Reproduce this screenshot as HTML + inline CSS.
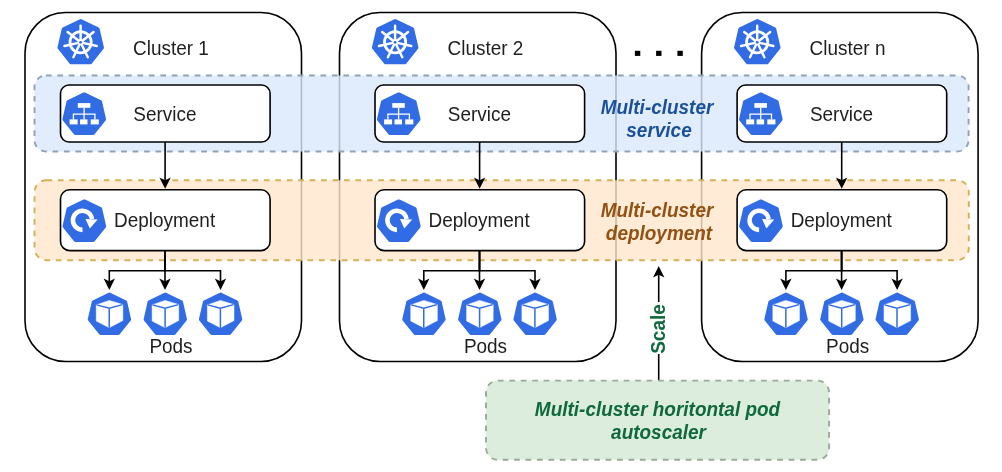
<!DOCTYPE html>
<html><head><meta charset="utf-8"><title>Multi-cluster</title>
<style>html,body{margin:0;padding:0;background:#fff;}body{width:1002px;height:472px;overflow:hidden;font-family:"Liberation Sans",sans-serif;}svg{display:block;will-change:transform;}</style>
</head><body>
<svg width="1002" height="472" viewBox="0 0 1002 472"><path d="M65.50,12.50 L261.00,12.50 A40.50,40.50 0 0 1 301.50,53.00 L301.50,321.00 A40.50,40.50 0 0 1 261.00,361.50 L65.50,361.50 A40.50,40.50 0 0 1 25.00,321.00 L25.00,53.00 A40.50,40.50 0 0 1 65.50,12.50Z" fill="#fff" stroke="#000" stroke-width="1.6"/>
<path d="M380.00,12.50 L575.50,12.50 A40.50,40.50 0 0 1 616.00,53.00 L616.00,321.00 A40.50,40.50 0 0 1 575.50,361.50 L380.00,361.50 A40.50,40.50 0 0 1 339.50,321.00 L339.50,53.00 A40.50,40.50 0 0 1 380.00,12.50Z" fill="#fff" stroke="#000" stroke-width="1.6"/>
<path d="M742.10,12.50 L937.60,12.50 A40.50,40.50 0 0 1 978.10,53.00 L978.10,321.00 A40.50,40.50 0 0 1 937.60,361.50 L742.10,361.50 A40.50,40.50 0 0 1 701.60,321.00 L701.60,53.00 A40.50,40.50 0 0 1 742.10,12.50Z" fill="#fff" stroke="#000" stroke-width="1.6"/>
<path d="M45.90,75.50 L957.20,75.50 A11.40,11.40 0 0 1 968.60,86.90 L968.60,140.10 A11.40,11.40 0 0 1 957.20,151.50 L45.90,151.50 A11.40,11.40 0 0 1 34.50,140.10 L34.50,86.90 A11.40,11.40 0 0 1 45.90,75.50Z" fill="#dae8fc" fill-opacity="0.8" stroke="#91a1b6" stroke-width="1.9" stroke-dasharray="5.72 5.72"/>
<path d="M46.50,180.20 L956.80,180.20 A12.00,12.00 0 0 1 968.80,192.20 L968.80,248.20 A12.00,12.00 0 0 1 956.80,260.20 L46.50,260.20 A12.00,12.00 0 0 1 34.50,248.20 L34.50,192.20 A12.00,12.00 0 0 1 46.50,180.20Z" fill="#ffe6cc" fill-opacity="0.8" stroke="#d1b255" stroke-width="1.9" stroke-dasharray="5.72 5.72"/>
<path d="M80.70,20.75 L97.90,29.03 L102.15,47.65 L90.25,62.57 L71.15,62.57 L59.25,47.65 L63.50,29.03Z" fill="#326ce5" stroke="#326ce5" stroke-width="3.6" stroke-linejoin="round"/><circle cx="80.60" cy="42.30" r="10.6" fill="none" stroke="#fff" stroke-width="2.8"/><line x1="80.60" y1="39.90" x2="80.60" y2="25.70" stroke="#fff" stroke-width="2.4" stroke-linecap="round"/><line x1="82.48" y1="40.80" x2="93.58" y2="31.95" stroke="#fff" stroke-width="2.4" stroke-linecap="round"/><line x1="82.94" y1="42.83" x2="96.78" y2="45.99" stroke="#fff" stroke-width="2.4" stroke-linecap="round"/><line x1="81.64" y1="44.46" x2="87.80" y2="57.26" stroke="#fff" stroke-width="2.4" stroke-linecap="round"/><line x1="79.56" y1="44.46" x2="73.40" y2="57.26" stroke="#fff" stroke-width="2.4" stroke-linecap="round"/><line x1="78.26" y1="42.83" x2="64.42" y2="45.99" stroke="#fff" stroke-width="2.4" stroke-linecap="round"/><line x1="78.72" y1="40.80" x2="67.62" y2="31.95" stroke="#fff" stroke-width="2.4" stroke-linecap="round"/><circle cx="80.60" cy="42.30" r="3.0" fill="#fff"/><circle cx="80.60" cy="42.30" r="1.4" fill="#326ce5"/><text transform="translate(133.00,54.75) scale(1,1.025)" font-family="Liberation Sans, sans-serif" font-size="18.96" fill="#1e1e1e">Cluster 1</text><path d="M69.05,85.00 L261.55,85.00 A8.55,8.55 0 0 1 270.10,93.55 L270.10,133.45 A8.55,8.55 0 0 1 261.55,142.00 L69.05,142.00 A8.55,8.55 0 0 1 60.50,133.45 L60.50,93.55 A8.55,8.55 0 0 1 69.05,85.00Z" fill="#fff" stroke="#000" stroke-width="1.6"/><path d="M84.25,94.20 L100.28,101.92 L104.24,119.26 L93.15,133.17 L75.35,133.17 L64.26,119.26 L68.22,101.92Z" fill="#326ce5" stroke="#326ce5" stroke-width="3.6" stroke-linejoin="round"/><rect x="77.80" y="103.10" width="12.5" height="4.7" fill="#fff"/><path d="M84.10,107.70 V114.40 M73.40,119.50 V114.10 H94.90 V119.50 M84.10,114.10 V119.50" fill="none" stroke="#fff" stroke-width="1.3"/><rect x="69.60" y="119.40" width="8" height="5" fill="#fff"/><rect x="80.00" y="119.40" width="7.5" height="5" fill="#fff"/><rect x="90.70" y="119.40" width="8.1" height="5" fill="#fff"/><text transform="translate(133.30,120.50) scale(1,1.025)" font-family="Liberation Sans, sans-serif" font-size="18.96" fill="#1e1e1e">Service</text><line x1="165.10" y1="142" x2="165.10" y2="181" stroke="#000" stroke-width="1.6"/><path d="M165.10,187.00 L161.20,179.20 L165.10,181.15 L169.00,179.20Z" fill="#000" stroke="#000" stroke-width="1.6" stroke-linejoin="miter" stroke-miterlimit="10"/><path d="M69.60,189.80 L261.00,189.80 A9.10,9.10 0 0 1 270.10,198.90 L270.10,241.50 A9.10,9.10 0 0 1 261.00,250.60 L69.60,250.60 A9.10,9.10 0 0 1 60.50,241.50 L60.50,198.90 A9.10,9.10 0 0 1 69.60,189.80Z" fill="#fff" stroke="#000" stroke-width="1.6"/><path d="M84.35,201.20 L100.38,208.92 L104.34,226.26 L93.25,240.17 L75.45,240.17 L64.36,226.26 L68.32,208.92Z" fill="#326ce5" stroke="#326ce5" stroke-width="3.6" stroke-linejoin="round"/><path d="M82.50,229.85 A9.55,9.55 0 1 1 91.96,218.97" fill="none" stroke="#fff" stroke-width="4.6"/><path d="M85.50,219.10 L97.70,219.50 L89.80,228.50Z" fill="#fff"/><text transform="translate(114.05,227.30) scale(1,1.025)" font-family="Liberation Sans, sans-serif" font-size="18.96" fill="#1e1e1e">Deployment</text><path d="M165.00,250.6 V270.7 H109.30 V282" fill="none" stroke="#000" stroke-width="1.6"/><path d="M165.00,250.6 V282" fill="none" stroke="#000" stroke-width="1.6"/><path d="M165.00,250.6 V270.7 H220.50 V282" fill="none" stroke="#000" stroke-width="1.6"/><path d="M109.30,288.10 L105.40,280.30 L109.30,282.25 L113.20,280.30Z" fill="#000" stroke="#000" stroke-width="1.6" stroke-linejoin="miter" stroke-miterlimit="10"/><path d="M165.00,288.10 L161.10,280.30 L165.00,282.25 L168.90,280.30Z" fill="#000" stroke="#000" stroke-width="1.6" stroke-linejoin="miter" stroke-miterlimit="10"/><path d="M220.50,288.10 L216.60,280.30 L220.50,282.25 L224.40,280.30Z" fill="#000" stroke="#000" stroke-width="1.6" stroke-linejoin="miter" stroke-miterlimit="10"/><path d="M109.45,294.40 L125.40,302.08 L129.34,319.34 L118.30,333.18 L100.60,333.18 L89.56,319.34 L93.50,302.08Z" fill="#326ce5" stroke="#326ce5" stroke-width="3.6" stroke-linejoin="round"/><path d="M109.25,300.40 L122.85,304.60 L122.85,320.60 L109.25,327.70 L96.25,321.00 L96.25,304.90Z" fill="#fff" stroke="#fff" stroke-width="0.5" stroke-linejoin="round"/><path d="M96.65,304.90 L109.25,308.30 L122.45,304.60 M109.25,308.30 L109.25,327.70" fill="none" stroke="#326ce5" stroke-width="1.5"/><path d="M165.30,294.40 L181.25,302.08 L185.19,319.34 L174.15,333.18 L156.45,333.18 L145.41,319.34 L149.35,302.08Z" fill="#326ce5" stroke="#326ce5" stroke-width="3.6" stroke-linejoin="round"/><path d="M165.10,300.40 L178.70,304.60 L178.70,320.60 L165.10,327.70 L152.10,321.00 L152.10,304.90Z" fill="#fff" stroke="#fff" stroke-width="0.5" stroke-linejoin="round"/><path d="M152.50,304.90 L165.10,308.30 L178.30,304.60 M165.10,308.30 L165.10,327.70" fill="none" stroke="#326ce5" stroke-width="1.5"/><path d="M220.60,294.40 L236.55,302.08 L240.49,319.34 L229.45,333.18 L211.75,333.18 L200.71,319.34 L204.65,302.08Z" fill="#326ce5" stroke="#326ce5" stroke-width="3.6" stroke-linejoin="round"/><path d="M220.40,300.40 L234.00,304.60 L234.00,320.60 L220.40,327.70 L207.40,321.00 L207.40,304.90Z" fill="#fff" stroke="#fff" stroke-width="0.5" stroke-linejoin="round"/><path d="M207.80,304.90 L220.40,308.30 L233.60,304.60 M220.40,308.30 L220.40,327.70" fill="none" stroke="#326ce5" stroke-width="1.5"/><text transform="translate(149.40,352.90) scale(1,1.025)" font-family="Liberation Sans, sans-serif" font-size="18.96" fill="#1e1e1e">Pods</text>
<path d="M395.20,20.75 L412.40,29.03 L416.65,47.65 L404.75,62.57 L385.65,62.57 L373.75,47.65 L378.00,29.03Z" fill="#326ce5" stroke="#326ce5" stroke-width="3.6" stroke-linejoin="round"/><circle cx="395.10" cy="42.30" r="10.6" fill="none" stroke="#fff" stroke-width="2.8"/><line x1="395.10" y1="39.90" x2="395.10" y2="25.70" stroke="#fff" stroke-width="2.4" stroke-linecap="round"/><line x1="396.98" y1="40.80" x2="408.08" y2="31.95" stroke="#fff" stroke-width="2.4" stroke-linecap="round"/><line x1="397.44" y1="42.83" x2="411.28" y2="45.99" stroke="#fff" stroke-width="2.4" stroke-linecap="round"/><line x1="396.14" y1="44.46" x2="402.30" y2="57.26" stroke="#fff" stroke-width="2.4" stroke-linecap="round"/><line x1="394.06" y1="44.46" x2="387.90" y2="57.26" stroke="#fff" stroke-width="2.4" stroke-linecap="round"/><line x1="392.76" y1="42.83" x2="378.92" y2="45.99" stroke="#fff" stroke-width="2.4" stroke-linecap="round"/><line x1="393.22" y1="40.80" x2="382.12" y2="31.95" stroke="#fff" stroke-width="2.4" stroke-linecap="round"/><circle cx="395.10" cy="42.30" r="3.0" fill="#fff"/><circle cx="395.10" cy="42.30" r="1.4" fill="#326ce5"/><text transform="translate(447.50,54.75) scale(1,1.025)" font-family="Liberation Sans, sans-serif" font-size="18.96" fill="#1e1e1e">Cluster 2</text><path d="M383.55,85.00 L576.05,85.00 A8.55,8.55 0 0 1 584.60,93.55 L584.60,133.45 A8.55,8.55 0 0 1 576.05,142.00 L383.55,142.00 A8.55,8.55 0 0 1 375.00,133.45 L375.00,93.55 A8.55,8.55 0 0 1 383.55,85.00Z" fill="#fff" stroke="#000" stroke-width="1.6"/><path d="M398.75,94.20 L414.78,101.92 L418.74,119.26 L407.65,133.17 L389.85,133.17 L378.76,119.26 L382.72,101.92Z" fill="#326ce5" stroke="#326ce5" stroke-width="3.6" stroke-linejoin="round"/><rect x="392.30" y="103.10" width="12.5" height="4.7" fill="#fff"/><path d="M398.60,107.70 V114.40 M387.90,119.50 V114.10 H409.40 V119.50 M398.60,114.10 V119.50" fill="none" stroke="#fff" stroke-width="1.3"/><rect x="384.10" y="119.40" width="8" height="5" fill="#fff"/><rect x="394.50" y="119.40" width="7.5" height="5" fill="#fff"/><rect x="405.20" y="119.40" width="8.1" height="5" fill="#fff"/><text transform="translate(447.80,120.50) scale(1,1.025)" font-family="Liberation Sans, sans-serif" font-size="18.96" fill="#1e1e1e">Service</text><line x1="479.60" y1="142" x2="479.60" y2="181" stroke="#000" stroke-width="1.6"/><path d="M479.60,187.00 L475.70,179.20 L479.60,181.15 L483.50,179.20Z" fill="#000" stroke="#000" stroke-width="1.6" stroke-linejoin="miter" stroke-miterlimit="10"/><path d="M384.10,189.80 L575.50,189.80 A9.10,9.10 0 0 1 584.60,198.90 L584.60,241.50 A9.10,9.10 0 0 1 575.50,250.60 L384.10,250.60 A9.10,9.10 0 0 1 375.00,241.50 L375.00,198.90 A9.10,9.10 0 0 1 384.10,189.80Z" fill="#fff" stroke="#000" stroke-width="1.6"/><path d="M398.85,201.20 L414.88,208.92 L418.84,226.26 L407.75,240.17 L389.95,240.17 L378.86,226.26 L382.82,208.92Z" fill="#326ce5" stroke="#326ce5" stroke-width="3.6" stroke-linejoin="round"/><path d="M397.00,229.85 A9.55,9.55 0 1 1 406.46,218.97" fill="none" stroke="#fff" stroke-width="4.6"/><path d="M400.00,219.10 L412.20,219.50 L404.30,228.50Z" fill="#fff"/><text transform="translate(428.55,227.30) scale(1,1.025)" font-family="Liberation Sans, sans-serif" font-size="18.96" fill="#1e1e1e">Deployment</text><path d="M479.50,250.6 V270.7 H423.80 V282" fill="none" stroke="#000" stroke-width="1.6"/><path d="M479.50,250.6 V282" fill="none" stroke="#000" stroke-width="1.6"/><path d="M479.50,250.6 V270.7 H535.00 V282" fill="none" stroke="#000" stroke-width="1.6"/><path d="M423.80,288.10 L419.90,280.30 L423.80,282.25 L427.70,280.30Z" fill="#000" stroke="#000" stroke-width="1.6" stroke-linejoin="miter" stroke-miterlimit="10"/><path d="M479.50,288.10 L475.60,280.30 L479.50,282.25 L483.40,280.30Z" fill="#000" stroke="#000" stroke-width="1.6" stroke-linejoin="miter" stroke-miterlimit="10"/><path d="M535.00,288.10 L531.10,280.30 L535.00,282.25 L538.90,280.30Z" fill="#000" stroke="#000" stroke-width="1.6" stroke-linejoin="miter" stroke-miterlimit="10"/><path d="M423.95,294.40 L439.90,302.08 L443.84,319.34 L432.80,333.18 L415.10,333.18 L404.06,319.34 L408.00,302.08Z" fill="#326ce5" stroke="#326ce5" stroke-width="3.6" stroke-linejoin="round"/><path d="M423.75,300.40 L437.35,304.60 L437.35,320.60 L423.75,327.70 L410.75,321.00 L410.75,304.90Z" fill="#fff" stroke="#fff" stroke-width="0.5" stroke-linejoin="round"/><path d="M411.15,304.90 L423.75,308.30 L436.95,304.60 M423.75,308.30 L423.75,327.70" fill="none" stroke="#326ce5" stroke-width="1.5"/><path d="M479.80,294.40 L495.75,302.08 L499.69,319.34 L488.65,333.18 L470.95,333.18 L459.91,319.34 L463.85,302.08Z" fill="#326ce5" stroke="#326ce5" stroke-width="3.6" stroke-linejoin="round"/><path d="M479.60,300.40 L493.20,304.60 L493.20,320.60 L479.60,327.70 L466.60,321.00 L466.60,304.90Z" fill="#fff" stroke="#fff" stroke-width="0.5" stroke-linejoin="round"/><path d="M467.00,304.90 L479.60,308.30 L492.80,304.60 M479.60,308.30 L479.60,327.70" fill="none" stroke="#326ce5" stroke-width="1.5"/><path d="M535.10,294.40 L551.05,302.08 L554.99,319.34 L543.95,333.18 L526.25,333.18 L515.21,319.34 L519.15,302.08Z" fill="#326ce5" stroke="#326ce5" stroke-width="3.6" stroke-linejoin="round"/><path d="M534.90,300.40 L548.50,304.60 L548.50,320.60 L534.90,327.70 L521.90,321.00 L521.90,304.90Z" fill="#fff" stroke="#fff" stroke-width="0.5" stroke-linejoin="round"/><path d="M522.30,304.90 L534.90,308.30 L548.10,304.60 M534.90,308.30 L534.90,327.70" fill="none" stroke="#326ce5" stroke-width="1.5"/><text transform="translate(463.90,352.90) scale(1,1.025)" font-family="Liberation Sans, sans-serif" font-size="18.96" fill="#1e1e1e">Pods</text>
<path d="M757.30,20.75 L774.50,29.03 L778.75,47.65 L766.85,62.57 L747.75,62.57 L735.85,47.65 L740.10,29.03Z" fill="#326ce5" stroke="#326ce5" stroke-width="3.6" stroke-linejoin="round"/><circle cx="757.20" cy="42.30" r="10.6" fill="none" stroke="#fff" stroke-width="2.8"/><line x1="757.20" y1="39.90" x2="757.20" y2="25.70" stroke="#fff" stroke-width="2.4" stroke-linecap="round"/><line x1="759.08" y1="40.80" x2="770.18" y2="31.95" stroke="#fff" stroke-width="2.4" stroke-linecap="round"/><line x1="759.54" y1="42.83" x2="773.38" y2="45.99" stroke="#fff" stroke-width="2.4" stroke-linecap="round"/><line x1="758.24" y1="44.46" x2="764.40" y2="57.26" stroke="#fff" stroke-width="2.4" stroke-linecap="round"/><line x1="756.16" y1="44.46" x2="750.00" y2="57.26" stroke="#fff" stroke-width="2.4" stroke-linecap="round"/><line x1="754.86" y1="42.83" x2="741.02" y2="45.99" stroke="#fff" stroke-width="2.4" stroke-linecap="round"/><line x1="755.32" y1="40.80" x2="744.22" y2="31.95" stroke="#fff" stroke-width="2.4" stroke-linecap="round"/><circle cx="757.20" cy="42.30" r="3.0" fill="#fff"/><circle cx="757.20" cy="42.30" r="1.4" fill="#326ce5"/><text transform="translate(809.60,54.75) scale(1,1.025)" font-family="Liberation Sans, sans-serif" font-size="18.96" fill="#1e1e1e">Cluster n</text><path d="M745.65,85.00 L938.15,85.00 A8.55,8.55 0 0 1 946.70,93.55 L946.70,133.45 A8.55,8.55 0 0 1 938.15,142.00 L745.65,142.00 A8.55,8.55 0 0 1 737.10,133.45 L737.10,93.55 A8.55,8.55 0 0 1 745.65,85.00Z" fill="#fff" stroke="#000" stroke-width="1.6"/><path d="M760.85,94.20 L776.88,101.92 L780.84,119.26 L769.75,133.17 L751.95,133.17 L740.86,119.26 L744.82,101.92Z" fill="#326ce5" stroke="#326ce5" stroke-width="3.6" stroke-linejoin="round"/><rect x="754.40" y="103.10" width="12.5" height="4.7" fill="#fff"/><path d="M760.70,107.70 V114.40 M750.00,119.50 V114.10 H771.50 V119.50 M760.70,114.10 V119.50" fill="none" stroke="#fff" stroke-width="1.3"/><rect x="746.20" y="119.40" width="8" height="5" fill="#fff"/><rect x="756.60" y="119.40" width="7.5" height="5" fill="#fff"/><rect x="767.30" y="119.40" width="8.1" height="5" fill="#fff"/><text transform="translate(809.90,120.50) scale(1,1.025)" font-family="Liberation Sans, sans-serif" font-size="18.96" fill="#1e1e1e">Service</text><line x1="841.70" y1="142" x2="841.70" y2="181" stroke="#000" stroke-width="1.6"/><path d="M841.70,187.00 L837.80,179.20 L841.70,181.15 L845.60,179.20Z" fill="#000" stroke="#000" stroke-width="1.6" stroke-linejoin="miter" stroke-miterlimit="10"/><path d="M746.20,189.80 L937.60,189.80 A9.10,9.10 0 0 1 946.70,198.90 L946.70,241.50 A9.10,9.10 0 0 1 937.60,250.60 L746.20,250.60 A9.10,9.10 0 0 1 737.10,241.50 L737.10,198.90 A9.10,9.10 0 0 1 746.20,189.80Z" fill="#fff" stroke="#000" stroke-width="1.6"/><path d="M760.95,201.20 L776.98,208.92 L780.94,226.26 L769.85,240.17 L752.05,240.17 L740.96,226.26 L744.92,208.92Z" fill="#326ce5" stroke="#326ce5" stroke-width="3.6" stroke-linejoin="round"/><path d="M759.10,229.85 A9.55,9.55 0 1 1 768.56,218.97" fill="none" stroke="#fff" stroke-width="4.6"/><path d="M762.10,219.10 L774.30,219.50 L766.40,228.50Z" fill="#fff"/><text transform="translate(790.65,227.30) scale(1,1.025)" font-family="Liberation Sans, sans-serif" font-size="18.96" fill="#1e1e1e">Deployment</text><path d="M841.60,250.6 V270.7 H785.90 V282" fill="none" stroke="#000" stroke-width="1.6"/><path d="M841.60,250.6 V282" fill="none" stroke="#000" stroke-width="1.6"/><path d="M841.60,250.6 V270.7 H897.10 V282" fill="none" stroke="#000" stroke-width="1.6"/><path d="M785.90,288.10 L782.00,280.30 L785.90,282.25 L789.80,280.30Z" fill="#000" stroke="#000" stroke-width="1.6" stroke-linejoin="miter" stroke-miterlimit="10"/><path d="M841.60,288.10 L837.70,280.30 L841.60,282.25 L845.50,280.30Z" fill="#000" stroke="#000" stroke-width="1.6" stroke-linejoin="miter" stroke-miterlimit="10"/><path d="M897.10,288.10 L893.20,280.30 L897.10,282.25 L901.00,280.30Z" fill="#000" stroke="#000" stroke-width="1.6" stroke-linejoin="miter" stroke-miterlimit="10"/><path d="M786.05,294.40 L802.00,302.08 L805.94,319.34 L794.90,333.18 L777.20,333.18 L766.16,319.34 L770.10,302.08Z" fill="#326ce5" stroke="#326ce5" stroke-width="3.6" stroke-linejoin="round"/><path d="M785.85,300.40 L799.45,304.60 L799.45,320.60 L785.85,327.70 L772.85,321.00 L772.85,304.90Z" fill="#fff" stroke="#fff" stroke-width="0.5" stroke-linejoin="round"/><path d="M773.25,304.90 L785.85,308.30 L799.05,304.60 M785.85,308.30 L785.85,327.70" fill="none" stroke="#326ce5" stroke-width="1.5"/><path d="M841.90,294.40 L857.85,302.08 L861.79,319.34 L850.75,333.18 L833.05,333.18 L822.01,319.34 L825.95,302.08Z" fill="#326ce5" stroke="#326ce5" stroke-width="3.6" stroke-linejoin="round"/><path d="M841.70,300.40 L855.30,304.60 L855.30,320.60 L841.70,327.70 L828.70,321.00 L828.70,304.90Z" fill="#fff" stroke="#fff" stroke-width="0.5" stroke-linejoin="round"/><path d="M829.10,304.90 L841.70,308.30 L854.90,304.60 M841.70,308.30 L841.70,327.70" fill="none" stroke="#326ce5" stroke-width="1.5"/><path d="M897.20,294.40 L913.15,302.08 L917.09,319.34 L906.05,333.18 L888.35,333.18 L877.31,319.34 L881.25,302.08Z" fill="#326ce5" stroke="#326ce5" stroke-width="3.6" stroke-linejoin="round"/><path d="M897.00,300.40 L910.60,304.60 L910.60,320.60 L897.00,327.70 L884.00,321.00 L884.00,304.90Z" fill="#fff" stroke="#fff" stroke-width="0.5" stroke-linejoin="round"/><path d="M884.40,304.90 L897.00,308.30 L910.20,304.60 M897.00,308.30 L897.00,327.70" fill="none" stroke="#326ce5" stroke-width="1.5"/><text transform="translate(826.00,352.90) scale(1,1.025)" font-family="Liberation Sans, sans-serif" font-size="18.96" fill="#1e1e1e">Pods</text>
<rect x="634.9" y="50.8" width="5.4" height="5.1" fill="#000"/>
<rect x="656.1" y="50.8" width="5.4" height="5.1" fill="#000"/>
<rect x="677.4" y="50.8" width="5.4" height="5.1" fill="#000"/>
<text transform="translate(657.00,113.50) scale(1,1.025)" font-family="Liberation Sans, sans-serif" font-size="18.96" font-weight="bold" font-style="italic" text-anchor="middle" fill="#1b519a">Multi-cluster</text>
<text transform="translate(659.00,137.00) scale(1,1.025)" font-family="Liberation Sans, sans-serif" font-size="18.96" font-weight="bold" font-style="italic" text-anchor="middle" fill="#1b519a">service</text>
<text transform="translate(657.00,216.70) scale(1,1.025)" font-family="Liberation Sans, sans-serif" font-size="18.96" font-weight="bold" font-style="italic" text-anchor="middle" fill="#925214">Multi-cluster</text>
<text transform="translate(659.00,240.20) scale(1,1.025)" font-family="Liberation Sans, sans-serif" font-size="18.96" font-weight="bold" font-style="italic" text-anchor="middle" fill="#925214">deployment</text>
<line x1="658.7" y1="274" x2="658.7" y2="380.6" stroke="#000" stroke-width="1.6"/>
<path d="M658.70,267.90 L654.80,275.70 L658.70,273.75 L662.60,275.70Z" fill="#000" stroke="#000" stroke-width="1.6" stroke-linejoin="miter" stroke-miterlimit="10"/>
<rect x="649" y="302" width="19" height="52" fill="#fff"/>
<text transform="translate(665.2,329.0) rotate(-90) scale(1,1.025)" font-family="Liberation Sans, sans-serif" font-size="18.96" font-weight="bold" text-anchor="middle" fill="#0f693c">Scale</text>
<path d="M497.88,380.60 L817.22,380.60 A11.88,11.88 0 0 1 829.10,392.48 L829.10,447.92 A11.88,11.88 0 0 1 817.22,459.80 L497.88,459.80 A11.88,11.88 0 0 1 486.00,447.92 L486.00,392.48 A11.88,11.88 0 0 1 497.88,380.60Z" fill="#d5e8d4" fill-opacity="0.8" stroke="#97ac94" stroke-width="1.9" stroke-dasharray="5.72 5.72"/>
<text transform="translate(657.50,415.70) scale(1,1.025)" font-family="Liberation Sans, sans-serif" font-size="18.96" font-weight="bold" font-style="italic" text-anchor="middle" fill="#0f693c">Multi-cluster horitontal pod</text>
<text transform="translate(658.50,439.20) scale(1,1.025)" font-family="Liberation Sans, sans-serif" font-size="18.96" font-weight="bold" font-style="italic" text-anchor="middle" fill="#0f693c">autoscaler</text></svg>
</body></html>
